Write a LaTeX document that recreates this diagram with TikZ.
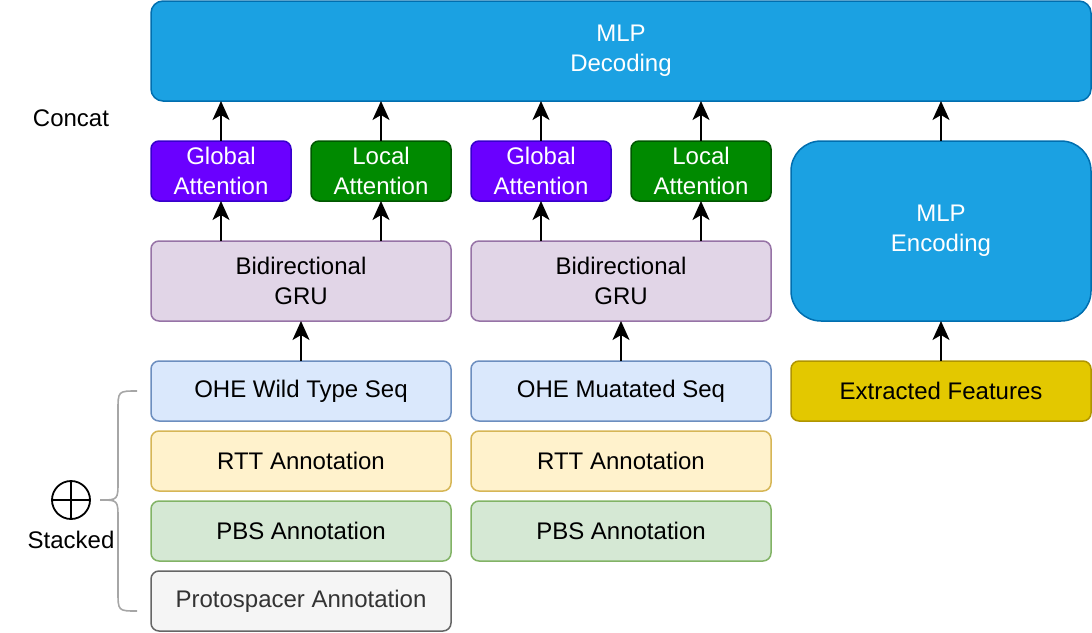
\documentclass[tikz,border=0pt]{standalone}
\usepackage{fontspec}
\setmainfont{Liberation Sans}
\usetikzlibrary{positioning,arrows.meta}
\definecolor{mlpfill}{HTML}{1BA1E2}
\definecolor{mlpline}{HTML}{006EAF}
\definecolor{globfill}{HTML}{6A00FF}
\definecolor{globline}{HTML}{3700CC}
\definecolor{locfill}{HTML}{008A00}
\definecolor{locline}{HTML}{005700}
\definecolor{grufill}{HTML}{E1D5E7}
\definecolor{gruline}{HTML}{9673A6}
\definecolor{ohefill}{HTML}{DAE8FC}
\definecolor{oheline}{HTML}{6C8EBF}
\definecolor{rttfill}{HTML}{FFF2CC}
\definecolor{rttline}{HTML}{D6B656}
\definecolor{pbsfill}{HTML}{D5E8D4}
\definecolor{pbsline}{HTML}{82B366}
\definecolor{protofill}{HTML}{F5F5F5}
\definecolor{protoline}{HTML}{666666}
\definecolor{prototext}{HTML}{333333}
\definecolor{featfill}{HTML}{E3C800}
\definecolor{featline}{HTML}{B09500}

\begin{document}
\begin{tikzpicture}[x=1pt,y=-1pt,
    box/.style = {draw, rounded corners=8pt, line width=1.5pt, align=center, inner sep=0pt,
                  outer sep=0pt, font=\fontsize{24}{30}\selectfont, minimum height=60pt},
    wide/.style = {box, minimum width=300pt},
    att/.style = {box, minimum width=140pt, text=white},
    arr/.style = {-{Stealth[length=19pt,width=17pt,inset=5pt]}, line width=2pt}]
  \useasboundingbox (0,0) rectangle (1092,632);
  % top
  \node[box, fill=mlpfill, draw=mlpline, text=white, rounded corners=12pt, minimum width=940pt, minimum height=100pt] (dec) at (621,51) {MLP\\Decoding};
  \node[font=\fontsize{24}{30}\selectfont] (concat) at (71,118) {Concat};
  % attention
  \node[att, fill=globfill, draw=globline] (glob1) at (221,171) {Global\\Attention};
  \node[att, fill=locfill, draw=locline] (loc1) at (381,171) {Local\\Attention};
  \node[att, fill=globfill, draw=globline] (glob2) at (541,171) {Global\\Attention};
  \node[att, fill=locfill, draw=locline] (loc2) at (701,171) {Local\\Attention};
  \node[box, fill=mlpfill, draw=mlpline, text=white, rounded corners=30pt, minimum width=300pt, minimum height=180pt] (enc) at (941,231) {MLP\\Encoding};
  % gru
  \node[wide, fill=grufill, draw=gruline, minimum height=80pt] (gru1) at (301,281) {Bidirectional\\GRU};
  \node[wide, fill=grufill, draw=gruline, minimum height=80pt] (gru2) at (621,281) {Bidirectional\\GRU};
  % inputs
  \node[wide, fill=ohefill, draw=oheline] (ohe1) at (301,391) {OHE Wild Type Seq};
  \node[wide, fill=rttfill, draw=rttline, below=10pt of ohe1] (rtt1) {RTT Annotation};
  \node[wide, fill=pbsfill, draw=pbsline, below=10pt of rtt1] (pbs1) {PBS Annotation};
  \node[wide, fill=protofill, draw=protoline, text=prototext, below=10pt of pbs1] (proto1) {Protospacer Annotation};
  \node[wide, fill=ohefill, draw=oheline] (ohe2) at (621,391) {OHE Muatated Seq};
  \node[wide, fill=rttfill, draw=rttline, below=10pt of ohe2] (rtt2) {RTT Annotation};
  \node[wide, fill=pbsfill, draw=pbsline, below=10pt of rtt2] (pbs2) {PBS Annotation};
  \node[wide, fill=featfill, draw=featline] (feat) at (941,391) {Extracted Features};
  % stacked
  \node[circle, draw, line width=1.8pt, minimum size=38pt, inner sep=0pt] (ox) at (71,500) {};
  \draw[line width=1.8pt] (ox.north) -- (ox.south) (ox.west) -- (ox.east);
  \node[font=\fontsize{24}{30}\selectfont] (stk) at (71,540) {Stacked};
  \draw[black!35, line width=1.6pt] (137,391) .. controls (118,391) .. (118,411) -- (118,481)
        .. controls (118,500) .. (100,500) .. controls (118,500) .. (118,519) -- (118,591)
        .. controls (118,611) .. (137,611);
  % arrows
  \draw[arr] (ohe1) -- (gru1);
  \draw[arr] (ohe2) -- (gru2);
  \draw[arr] (feat) -- (enc);
  \draw[arr] (gru1.north -| glob1) -- (glob1);
  \draw[arr] (gru1.north -| loc1) -- (loc1);
  \draw[arr] (gru2.north -| glob2) -- (glob2);
  \draw[arr] (gru2.north -| loc2) -- (loc2);
  \draw[arr] (glob1) -- (glob1 |- dec.south);
  \draw[arr] (loc1) -- (loc1 |- dec.south);
  \draw[arr] (glob2) -- (glob2 |- dec.south);
  \draw[arr] (loc2) -- (loc2 |- dec.south);
  \draw[arr] (enc) -- (enc |- dec.south);
\end{tikzpicture}
\end{document}
